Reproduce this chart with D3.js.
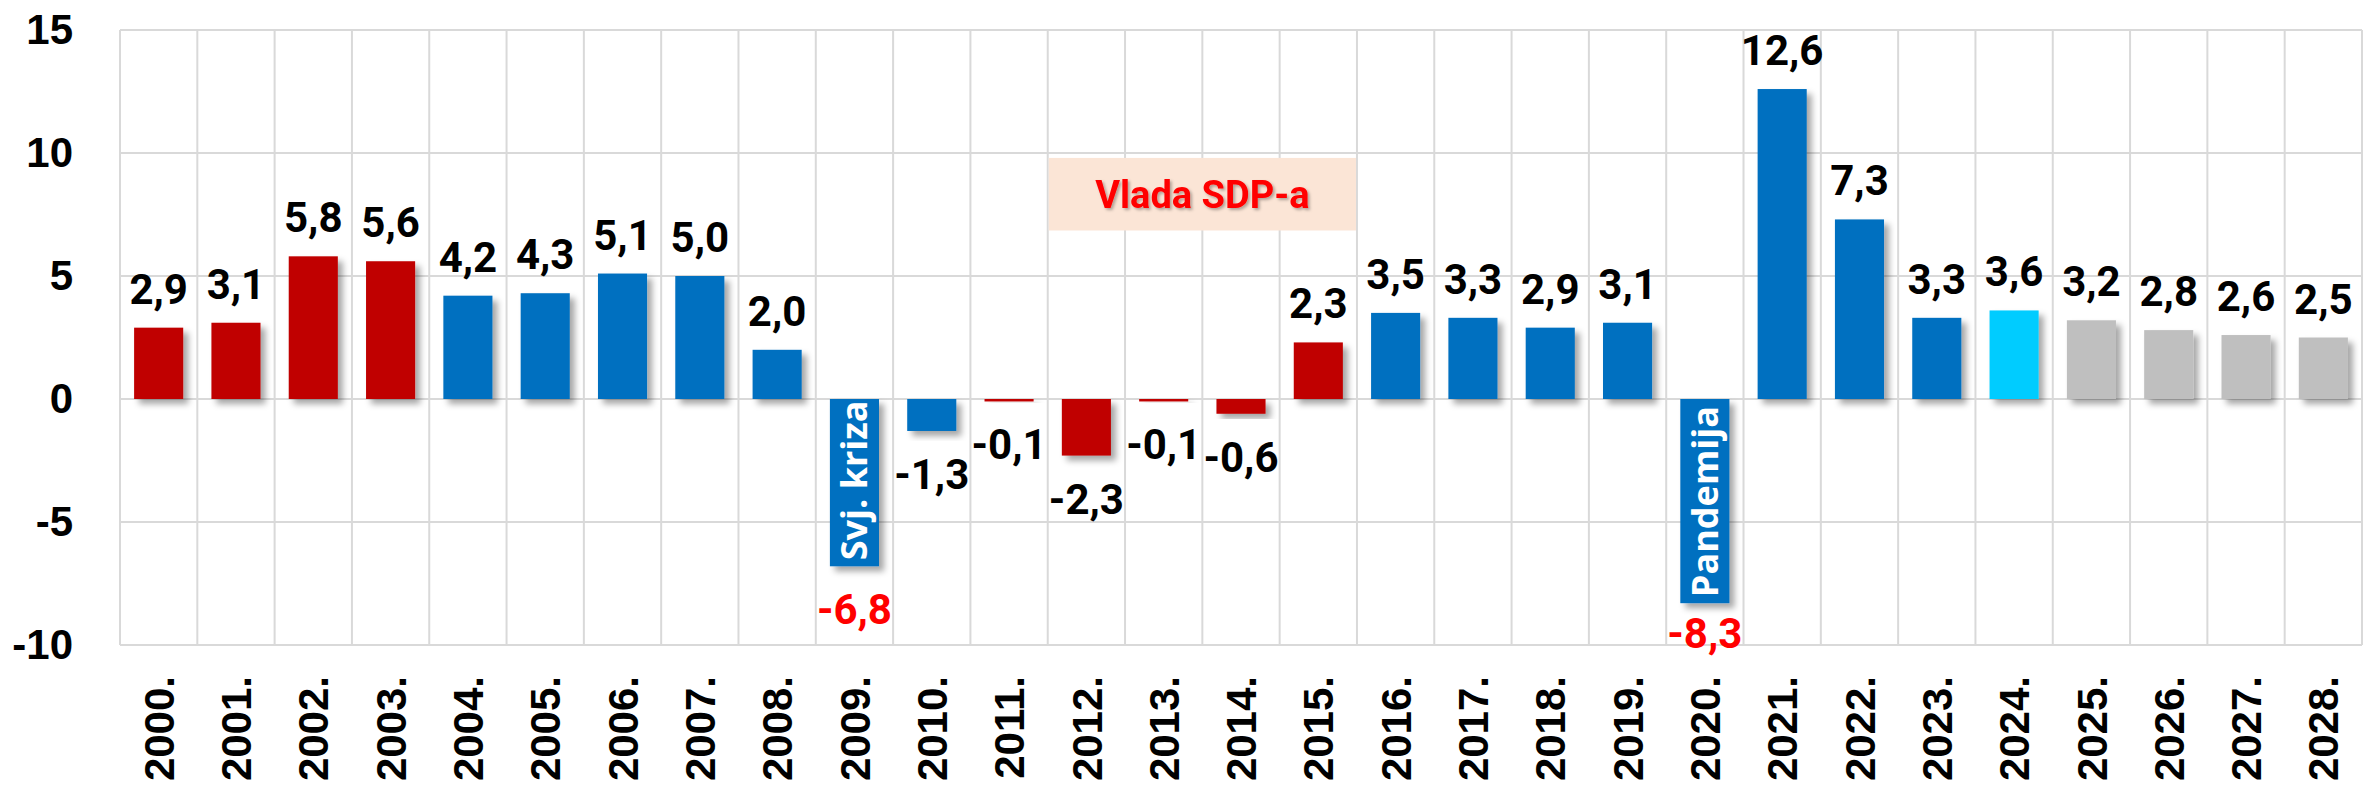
<!DOCTYPE html>
<html>
<head>
<meta charset="utf-8">
<script src="https://cdn.jsdelivr.net/npm/d3@7"></script>
<style>
  html, body { margin: 0; padding: 0; background: #fff; }
  svg { display: block; }
</style>
</head>
<body>
<div id="root"></div>
<script>
// godine i stope rasta BDP-a (%)
var years = ['2000.', '2001.', '2002.', '2003.', '2004.', '2005.', '2006.', '2007.', '2008.', '2009.',
    '2010.', '2011.', '2012.', '2013.', '2014.', '2015.', '2016.', '2017.', '2018.', '2019.',
    '2020.', '2021.', '2022.', '2023.', '2024.', '2025.', '2026.', '2027.', '2028.']
var values = [2.9, 3.1, 5.8, 5.6, 4.2, 4.3, 5.1, 5.0, 2.0, -6.8,
    -1.3, -0.1, -2.3, -0.1, -0.6, 2.3, 3.5, 3.3, 2.9, 3.1,
    -8.3, 12.6, 7.3, 3.3, 3.6, 3.2, 2.8, 2.6, 2.5]
var groups = ['sdp', 'sdp', 'sdp', 'sdp', 'hdz', 'hdz', 'hdz', 'hdz', 'hdz', 'hdz',
    'hdz', 'sdp', 'sdp', 'sdp', 'sdp', 'sdp', 'hdz', 'hdz', 'hdz', 'hdz',
    'hdz', 'hdz', 'hdz', 'hdz', 'est', 'proj', 'proj', 'proj', 'proj']
var yTicks = [-10, -5, 0, 5, 10, 15]
var barNotes = [{ year: '2009.', text: 'Svj. kriza' }, { year: '2020.', text: 'Pandemija' }]
var periodNote = { text: 'Vlada SDP-a', from: '2012.', to: '2015.' }

window.onload = function () {
    var colors = { sdp: '#C00000', hdz: '#0070C0', est: '#00CCFF', proj: '#BFBFBF' }

    var width = 2364, height = 788
    var mLeft = 120, mRight = 2362, mTop = 30, mBottom = 645

    var svg = d3.select('#root').append('svg').attr('width', width).attr('height', height)

    var defs = svg.append('defs')
    defs.append('filter').attr('id', 'shadow').attr('x', '-20%').attr('y', '-20%').attr('width', '150%').attr('height', '150%')
        .append('feDropShadow').attr('dx', 5).attr('dy', 5).attr('stdDeviation', 3)
        .attr('flood-color', '#000').attr('flood-opacity', 0.35)
    defs.append('filter').attr('id', 'tshadow')
        .append('feDropShadow').attr('dx', 2).attr('dy', 2).attr('stdDeviation', 1.5)
        .attr('flood-color', '#000').attr('flood-opacity', 0.3)

    var x = d3.scaleBand().domain(years).range([mLeft, mRight]).paddingInner(0.365).paddingOuter(0.1825)
    var y = d3.scaleLinear().domain([-10, 15]).range([mBottom, mTop])
    var step = x.step()
    var edge = function (d) { return x(d) - step * x.paddingInner() / 2 }

    // mreza
    var grid = svg.append('g').attr('stroke', '#D9D9D9').attr('stroke-width', 2)
    grid.selectAll('line.h').data(yTicks).enter().append('line')
        .attr('x1', mLeft).attr('x2', mRight)
        .attr('y1', function (d) { return y(d) }).attr('y2', function (d) { return y(d) })
    grid.selectAll('line.v').data(d3.range(years.length + 1)).enter().append('line')
        .attr('x1', function (i) { return mLeft + i * step }).attr('x2', function (i) { return mLeft + i * step })
        .attr('y1', mTop).attr('y2', mBottom)

    // okvir "Vlada SDP-a"
    var x0 = edge(periodNote.from) + 1, x1 = edge(periodNote.to) + step - 1
    svg.append('rect').attr('x', x0).attr('width', x1 - x0)
        .attr('y', y(9.8)).attr('height', y(6.85) - y(9.8)).attr('fill', '#FBE5D6')
    svg.append('text').attr('x', (x0 + x1) / 2).attr('y', (y(9.8) + y(6.85)) / 2 + 13.5)
        .attr('text-anchor', 'middle').attr('fill', '#FF0000').attr('filter', 'url(#tshadow)')
        .style('font', 'bold 38px Roboto').text(periodNote.text)

    var data = years.map(function (d, i) { return { year: d, v: values[i], g: groups[i] } })
    var noteOf = function (yr) { return barNotes.find(function (n) { return n.year == yr }) }

    // stupci
    svg.append('g').selectAll('rect').data(data).enter().append('rect')
        .attr('x', function (d) { return x(d.year) })
        .attr('width', x.bandwidth())
        .attr('y', function (d) { return y(Math.max(0, d.v)) })
        .attr('height', function (d) { return Math.abs(y(d.v) - y(0)) })
        .attr('fill', function (d) { return colors[d.g] })
        .attr('filter', 'url(#shadow)')

    // natpisi u stupcima
    svg.append('g').selectAll('text').data(barNotes).enter().append('text')
        .attr('transform', function (n) {
            var d = data[years.indexOf(n.year)]
            return 'translate(' + (x(n.year) + x.bandwidth() / 2) + ',' + (y(d.v) - 6) + ') rotate(-90)'
        })
        .attr('dy', '0.36em').attr('fill', '#fff')
        .style('font', 'bold 36px "Open Sans"').text(function (n) { return n.text })

    // vrijednosti
    svg.append('g').selectAll('text').data(data).enter().append('text')
        .attr('x', function (d) { return x(d.year) + x.bandwidth() / 2 })
        .attr('y', function (d) {
            return d.v >= 0 ? y(d.v) - 24 : Math.min(y(d.v) + 58, mBottom + 3)
        })
        .attr('text-anchor', 'middle')
        .attr('fill', function (d) { return noteOf(d.year) ? '#FF0000' : '#000' })
        .style('font', 'bold 42px Roboto')
        .text(function (d) { return d.v.toFixed(1).replace('.', ',') })

    // osi
    var yAxis = svg.append('g').attr('transform', 'translate(' + mLeft + ',0)')
        .call(d3.axisLeft(y).tickValues(yTicks).tickSize(0).tickPadding(47).tickFormat(function (d) { return String(d) }))
    yAxis.select('.domain').remove()
    yAxis.selectAll('text').attr('fill', '#000').style('font', 'bold 42px "Liberation Sans"')

    var xAxis = svg.append('g').attr('transform', 'translate(0,' + mBottom + ')')
        .call(d3.axisBottom(x).tickSize(0))
    xAxis.select('.domain').remove()
    xAxis.selectAll('text')
        .attr('transform', 'rotate(-90)').attr('x', -31).attr('y', 0).attr('dy', '0.36em')
        .attr('text-anchor', 'end').attr('fill', '#000')
        .style('font', 'bold 42px "Liberation Sans"')
}
</script>
</body>
</html>
